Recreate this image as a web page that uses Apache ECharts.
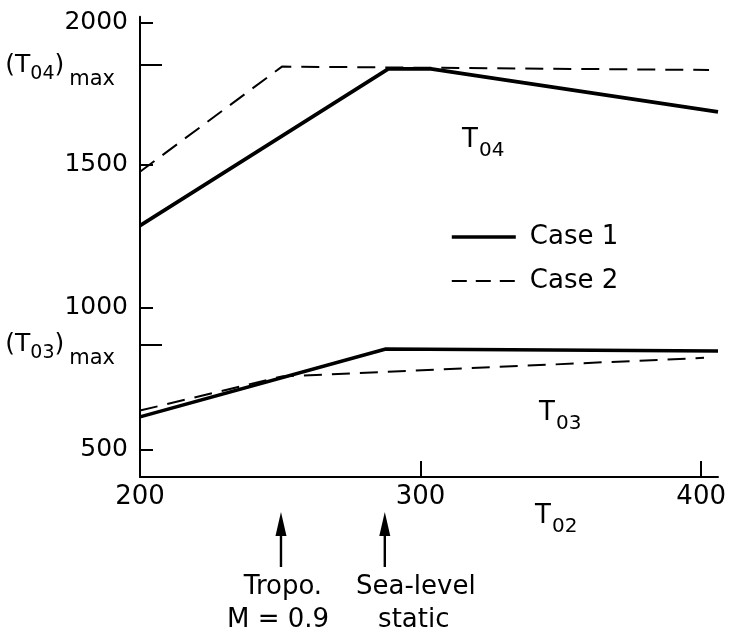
<!DOCTYPE html>
<html>
<head>
<meta charset="utf-8">
<script src="https://cdn.jsdelivr.net/npm/echarts@6/dist/echarts.min.js"></script>
<style>
html,body{margin:0;padding:0;background:#fff;}
#chart{width:729px;height:637px;}
</style>
</head>
<body>
<div id="chart"></div>
<script>
// ---- data ----
const case1T04X = [200, 288.5, 303.7, 406];
const case1T04Y = [1287, 1837, 1837, 1686];
const case2T04X = [200, 250.6, 402.8];
const case2T04Y = [1476, 1845, 1833];
const case1T03X = [200, 287.6, 406];
const case1T03Y = [616, 854, 847];
const case2T03X = [200, 250.6, 401];
const case2T03Y = [638, 758, 823];
const xTickLabels = [200, 300, 400];
const xTickMarks = [300, 400];
const yTickLabels = [500, 1000, 1500, 2000];
const yMaxTicks = [870, 1850];
const yMaxNames = {870: '03', 1850: '04'};
const conditionX = [250.6, 287.6];
const conditionText = [['Tropo.', 'M = 0.9'], ['Sea-level', 'static']];

const FONT = 'DejaVu Sans';
const zip = (xs, ys) => xs.map((x, i) => [x, ys[i]]);

const chart = echarts.init(document.getElementById('chart'), null, {renderer: 'canvas'});

const solid = {color: '#000', width: 3.6, type: 'solid'};
const dashed = {color: '#000', width: 2, type: [18, 10]};

const option = {
  animation: false,
  backgroundColor: '#fff',
  textStyle: {fontFamily: FONT, color: '#000'},
  grid: {left: 140, right: 7, top: 16.7, bottom: 160, containLabel: false},
  legend: {
    data: [
      {name: 'Case 1', lineStyle: {width: 3.6, type: 'solid', color: '#000'}},
      {name: 'Case 2', lineStyle: {width: 2, type: [15, 9], color: '#000'}}
    ],
    orient: 'vertical',
    left: 450, top: 224, padding: 0,
    itemWidth: 64, itemHeight: 14, itemGap: 18,
    itemStyle: {opacity: 0},
    textStyle: {fontFamily: FONT, fontSize: 26, color: '#000', padding: [0, 0, 0, 9], lineHeight: 26}
  },
  xAxis: {
    type: 'value', min: 200, max: 406,
    axisLine: {lineStyle: {color: '#000', width: 2}},
    axisTick: {inside: true, length: 16, customValues: xTickMarks, lineStyle: {color: '#000', width: 2}},
    axisLabel: {customValues: xTickLabels, formatter: v => String(v), fontFamily: FONT, fontSize: 26, color: '#000', margin: 7},
    splitLine: {show: false}
  },
  yAxis: [{
    type: 'value', min: 405, max: 2020,
    axisLine: {show: true, lineStyle: {color: '#000', width: 2}},
    axisTick: {show: true, inside: true, length: 13, customValues: yTickLabels, lineStyle: {color: '#000', width: 2}},
    axisLabel: {customValues: yTickLabels, formatter: v => String(v), fontFamily: FONT, fontSize: 25, color: '#000', margin: 12},
    splitLine: {show: false}
  }, {
    type: 'value', min: 405, max: 2020, position: 'left', offset: 0,
    axisLine: {show: false},
    axisTick: {show: true, inside: true, length: 22, customValues: yMaxTicks, lineStyle: {color: '#000', width: 2}},
    axisLabel: {
      customValues: yMaxTicks, margin: 25,
      formatter: v => '{a|(T}{s|' + yMaxNames[Math.round(v)] + '}{a|)}{m|max}',
      rich: {
        a: {fontFamily: FONT, fontSize: 25, lineHeight: 25, color: '#000'},
        s: {fontFamily: FONT, fontSize: 19, lineHeight: 19, padding: [18, 0, 0, 0], color: '#000'},
        m: {fontFamily: FONT, fontSize: 21, lineHeight: 21, padding: [28, 0, 0, 5], color: '#000'}
      }
    },
    splitLine: {show: false}
  }],
  series: [
    {name: 'Case 1', type: 'line', data: zip(case1T04X, case1T04Y), symbol: 'none', lineStyle: solid, itemStyle: {color: '#000'}},
    {name: 'Case 2', type: 'line', data: zip(case2T04X, case2T04Y), symbol: 'none', lineStyle: dashed, itemStyle: {color: '#000'}},
    {name: 'Case 1', type: 'line', data: zip(case1T03X, case1T03Y), symbol: 'none', lineStyle: solid, itemStyle: {color: '#000'}},
    {name: 'Case 2', type: 'line', data: zip(case2T03X, case2T03Y), symbol: 'none', lineStyle: dashed, itemStyle: {color: '#000'}}
  ]
};
chart.setOption(option);

// ---- annotations ----
const g = [];
function tLabel(x, y, sub) {
  g.push({type: 'text', left: x, top: y, style: {text: 'T', font: '26px "' + FONT + '"', fill: '#000'}});
  g.push({type: 'text', left: x + 17, top: y + 14, style: {text: sub, font: '20px "' + FONT + '"', fill: '#000'}});
}
tLabel(462, 127, '04');
tLabel(539, 400, '03');
tLabel(535, 503, '02');

conditionX.forEach((v, i) => {
  const px = chart.convertToPixel({xAxisIndex: 0}, v) - 1;
  g.push({type: 'line', shape: {x1: px, y1: 567, x2: px, y2: 530}, style: {stroke: '#000', lineWidth: 2.4}});
  g.push({type: 'polygon', shape: {points: [[px, 512], [px - 5.5, 536], [px + 5.5, 536]]}, style: {fill: '#000'}});
  const cx = i === 0 ? px + 2 : px + 31;
  g.push({type: 'text', x: cx, y: 587, style: {text: conditionText[i][0], font: '26px "' + FONT + '"', fill: '#000', align: 'center', verticalAlign: 'middle'}});
  g.push({type: 'text', x: cx + (i === 0 ? -5 : -2), y: 620, style: {text: conditionText[i][1], font: '26px "' + FONT + '"', fill: '#000', align: 'center', verticalAlign: 'middle'}});
});
chart.setOption({graphic: g});
</script>
</body>
</html>
